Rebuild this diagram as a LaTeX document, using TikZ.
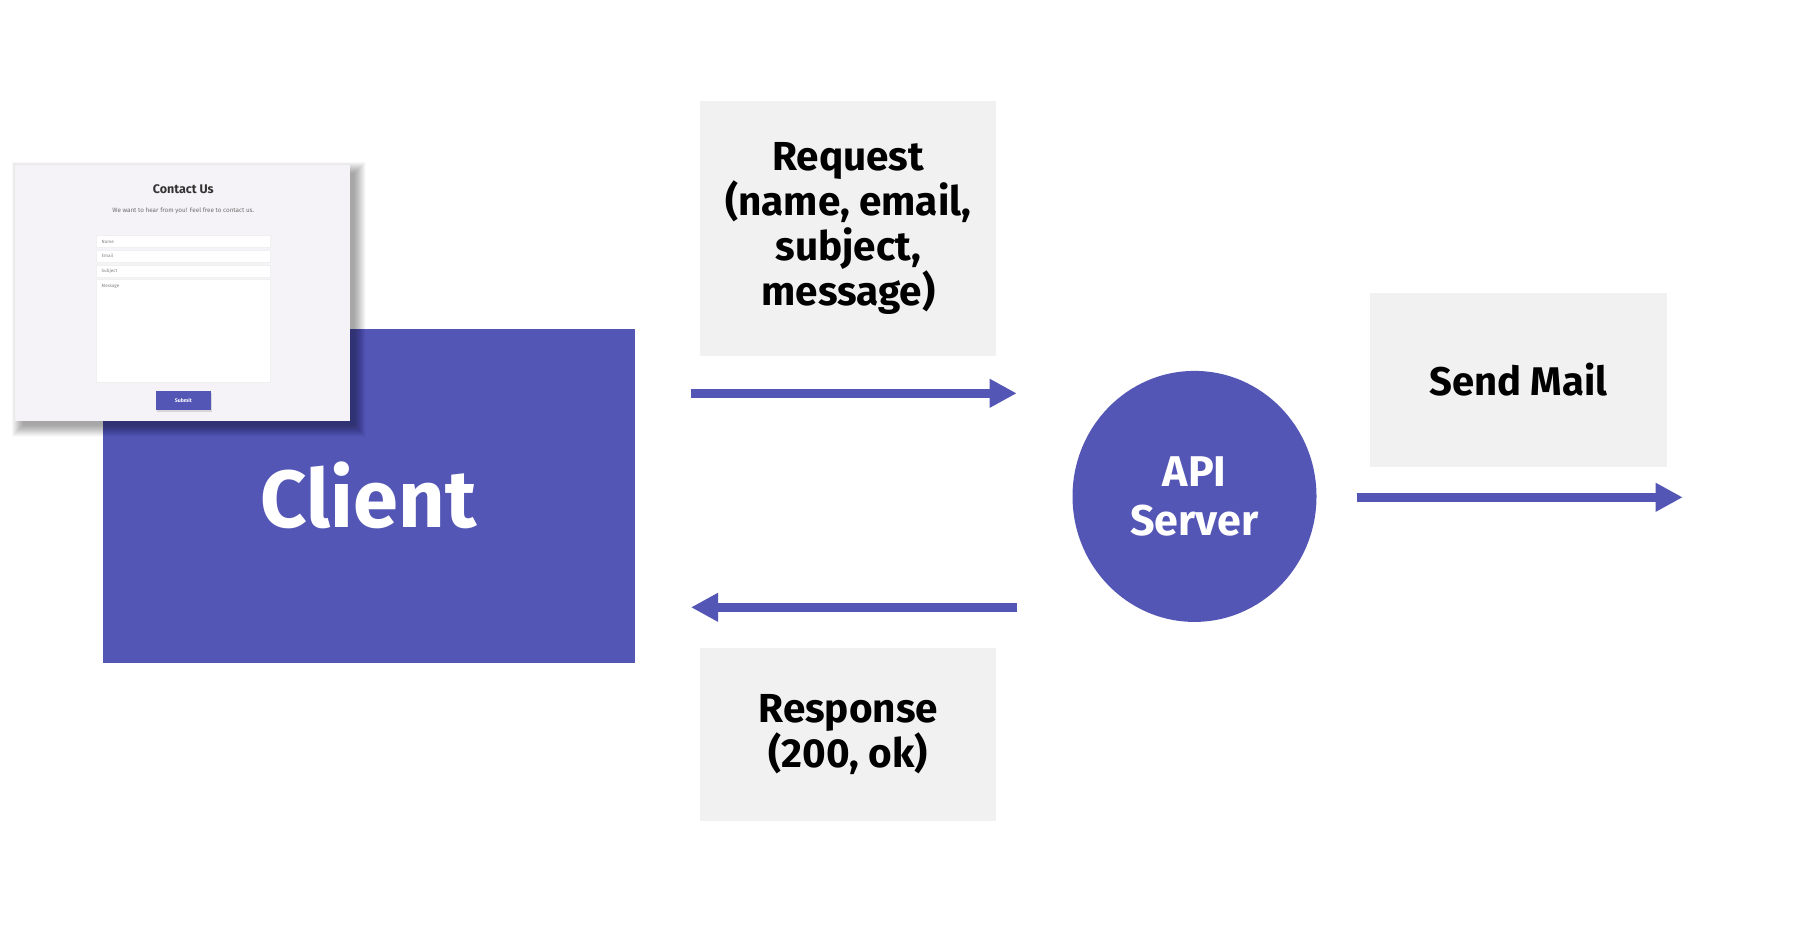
\documentclass[tikz,border=0pt]{standalone}
\usepackage{fontspec}
\setmainfont{Fira Sans}
\usetikzlibrary{arrows.meta,shapes.geometric}
\definecolor{brand}{RGB}{84,86,182}
\definecolor{boxgray}{RGB}{241,241,241}
\definecolor{cardbg}{RGB}{245,243,247}
\definecolor{titlegray}{RGB}{51,51,51}
\definecolor{subgray}{RGB}{110,110,110}
\definecolor{phgray}{RGB}{130,130,130}
\tikzset{
  labelbox/.style={fill=boxgray, inner sep=0pt, align=center, text=black},
  bigtext/.style={font=\bfseries\fontsize{40.5}{45}\selectfont},
  midtext/.style={font=\bfseries\fontsize{40}{49}\selectfont},
  apitext/.style={font=\bfseries\fontsize{43}{49}\selectfont},
  flow/.style={draw=brand, line width=8.7pt, -{Triangle[length=27pt,width=27pt]}},
  field/.style={fill=white, draw=black!6, line width=0.6pt},
  placeholder/.style={font=\fontsize{4.6}{5}\selectfont, text=phgray, anchor=west, inner sep=0pt},
}
\begin{document}
\begin{tikzpicture}[x=1pt,y=-1pt]
\useasboundingbox[fill=white] (0,0) rectangle (1806,930);

% Client
\node[fill=brand, minimum width=532pt, minimum height=334pt, inner sep=0pt,
      text=white, font=\bfseries\fontsize{81}{90}\selectfont] (client) at (368.5,496.4) {\raisebox{3pt}{Client}};

% contact form card with soft shadow
\foreach \r in {1,...,24}{
  \fill[black,opacity=0.014] ({11+\r*0.5},{161+\r*0.5}) rectangle ({366-\r*0.5},{437-\r*0.5});
}
\node[fill=cardbg, minimum width=335pt, minimum height=256pt, inner sep=0pt] (card) at (182.5,293) {};
\node[font=\bfseries\fontsize{12.5}{14}\selectfont, text=titlegray, inner sep=0pt] (ctitle) at (183.3,189) {Contact Us};
\node[font=\fontsize{6.3}{7}\selectfont, text=subgray, inner sep=0pt] (csub) at (183.3,210.5) {We want to hear from you! Feel free to contact us.};
\fill[field] (96.7,235.7) rectangle (270,247.7);
\fill[field] (96.7,250.3) rectangle (270,262);
\fill[field] (96.7,265) rectangle (270,277);
\fill[field] (96.7,279.7) rectangle (270,382.3);
\node[placeholder] (pname) at (101.5,241.7) {Name};
\node[placeholder] (pemail) at (101.5,256.2) {Email};
\node[placeholder] (psubj) at (101.5,271) {Subject};
\node[placeholder] (pmsg) at (101.5,286.5) {Message};
\fill[black,opacity=0.12] (157,392.5) rectangle (211.7,412);
\node[fill=brand, minimum width=54.7pt, minimum height=19.3pt, inner sep=0pt,
      text=white, font=\bfseries\fontsize{5.2}{6}\selectfont] (submit) at (183.3,400.3) {Submit};

% label boxes
\node[labelbox, bigtext, minimum width=296pt, minimum height=254.5pt] (req) at (848.3,228.6)
  {Request\\(name, email,\\subject,\\message)};
\node[labelbox, bigtext, minimum width=296pt, minimum height=172.7pt] (resp) at (848.3,734.8)
  {Response\\(200, ok)};
\node[labelbox, midtext, minimum width=296.7pt, minimum height=173.4pt] (mail) at (1518.3,380)
  {Send Mail};

% API server
\node[ellipse, fill=brand, minimum width=244pt, minimum height=251pt, inner sep=0pt,
      text=white, align=center, apitext] (api) at (1194.5,496.4) {API\\Server};

% arrows
\coordinate (reqA) at (690.7,393.3);
\coordinate (reqB) at (1016.7,393.3);
\coordinate (respA) at (1016.7,607.3);
\coordinate (respB) at (691,607.3);
\coordinate (mailA) at (1356.7,497.3);
\coordinate (mailB) at (1682.7,497.3);
\draw[flow] (reqA) -- (reqB);
\draw[flow] (respA) -- (respB);
\draw[flow] (mailA) -- (mailB);
\end{tikzpicture}
\end{document}
